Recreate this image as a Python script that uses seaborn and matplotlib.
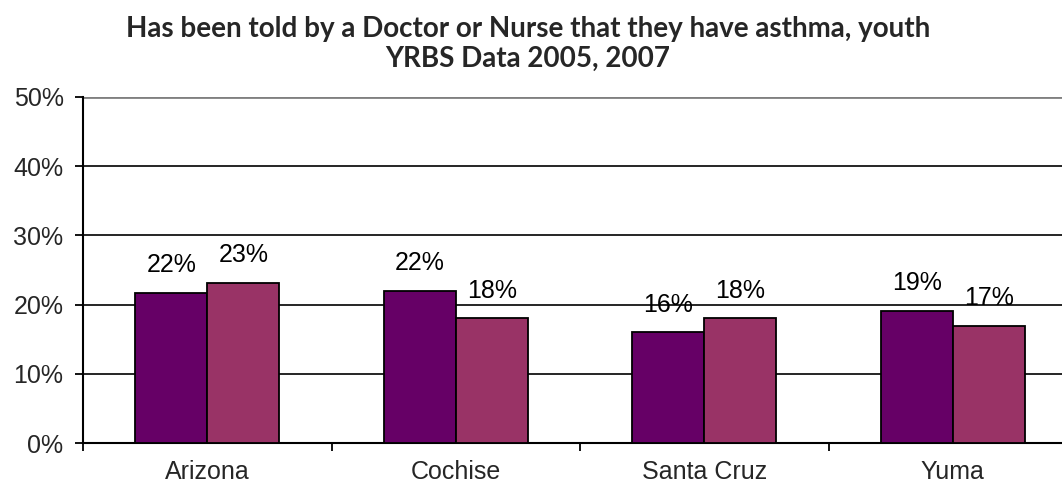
import matplotlib
matplotlib.use("Agg")
import matplotlib.pyplot as plt
from matplotlib.ticker import FixedLocator, PercentFormatter
import seaborn as sns
import pandas as pd

# values (percent)
regions = ["Arizona", "Cochise", "Santa Cruz", "Yuma"]
years = ["2005", "2007"]
pct_2005 = [21.7, 22.0, 16.0, 19.1]
pct_2007 = [23.1, 18.0, 18.0, 16.9]
bar_colors = ["#660066", "#993366"]
title = "Has been told by a Doctor or Nurse that they have asthma, youth\nYRBS Data 2005, 2007"

df = pd.DataFrame({
    "region": regions * 2,
    "year": [years[0]] * 4 + [years[1]] * 4,
    "pct": pct_2005 + pct_2007,
})

sns.set_style("white")
plt.rcParams["font.family"] = ["Liberation Sans", "DejaVu Sans"]

fig = plt.figure(figsize=(10.62, 4.9), dpi=100)
# plot area runs past the right edge, like the original
ax = fig.add_axes([83 / 1062, 47 / 490, 994 / 1062, 346 / 490])

sns.barplot(data=df, x="region", y="pct", hue="year", palette=bar_colors,
            saturation=1, width=0.58, edgecolor="black", linewidth=1.3,
            legend=False, zorder=3, ax=ax)

# labels above the bars
for cont in ax.containers:
    for bar in cont:
        h = bar.get_height()
        ax.annotate("%d%%" % round(h), (bar.get_x() + bar.get_width() / 2, h),
                    xytext=(0, 20), textcoords="offset points",
                    ha="center", va="center", fontsize=18, color="black",
                    zorder=2)

ax.set_xlim(-0.5, 3.5)
ax.set_ylim(0, 50)
ax.set_yticks(range(0, 51, 10))
ax.yaxis.set_major_formatter(PercentFormatter(decimals=0))
ax.grid(axis="y", color="black", linewidth=1.2, zorder=0)
ax.set_axisbelow(True)
ax.get_ygridlines()[-1].set_color("#808080")
ax.get_ygridlines()[-1].set_linewidth(2)

# category ticks between groups, Excel style
ax.xaxis.set_minor_locator(FixedLocator([-0.5, 0.5, 1.5, 2.5, 3.5]))
ax.tick_params(axis="x", which="major", length=0, pad=12, labelsize=18)
ax.tick_params(axis="x", which="minor", length=6, width=1.3, direction="out",
               color="black", bottom=True)
ax.tick_params(axis="y", length=6, width=1.3, direction="out", color="black",
               left=True, pad=8, labelsize=18)

ax.set_xlabel("")
ax.set_ylabel("")
for side in ["top", "right"]:
    ax.spines[side].set_visible(False)
for side in ["left", "bottom"]:
    ax.spines[side].set_color("black")
    ax.spines[side].set_linewidth(1.5)

fig.text(528 / 1062, 1 - 44 / 490, title, ha="center", va="center",
         fontsize=20, fontweight="bold", family=["Lato", "DejaVu Sans"],
         linespacing=1.2)

fig.savefig("out.png", dpi=100)
